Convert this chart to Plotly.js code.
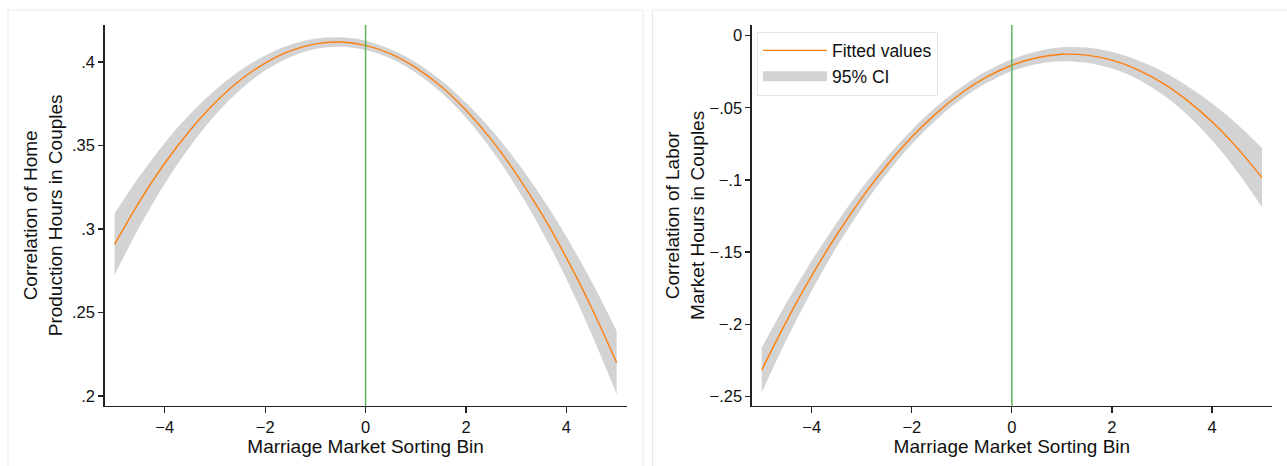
<!DOCTYPE html>
<html>
<head>
<meta charset="utf-8">
<script src="https://cdn.plot.ly/plotly-3.0.1.min.js"></script>
<style>html,body{margin:0;padding:0;background:#fff;}#chart{width:1287px;height:466px;}</style>
</head>
<body>
<div id="chart"></div>
<script>
// ---- data ----
var sortingBin = [-5, -4.5, -4, -3.5, -3, -2.5, -2, -1.5, -1, -0.5, 0, 0.5, 1, 1.5, 2, 2.5, 3, 3.5, 4, 4.5, 5];

// Left panel: correlation of home production hours
var homeFit   = [0.2908, 0.3166, 0.3394, 0.3590, 0.3756, 0.3891, 0.3994, 0.4067, 0.4109, 0.4120, 0.4100, 0.4049, 0.3967, 0.3855, 0.3711, 0.3537, 0.3331, 0.3095, 0.2827, 0.2529, 0.2200];
var homeUpper = [0.3091, 0.3317, 0.3516, 0.3687, 0.3831, 0.3949, 0.4039, 0.4103, 0.4140, 0.4148, 0.4128, 0.4077, 0.3998, 0.3891, 0.3756, 0.3596, 0.3408, 0.3195, 0.2953, 0.2686, 0.2390];
var homeLower = [0.2725, 0.3015, 0.3272, 0.3493, 0.3681, 0.3833, 0.3949, 0.4031, 0.4078, 0.4092, 0.4072, 0.4021, 0.3936, 0.3819, 0.3666, 0.3478, 0.3254, 0.2995, 0.2701, 0.2372, 0.2010];

// Right panel: correlation of labor market hours
var laborFit   = [-0.2318, -0.1977, -0.1664, -0.1380, -0.1126, -0.0900, -0.0703, -0.0535, -0.0396, -0.0286, -0.0205, -0.0153, -0.0129, -0.0135, -0.0170, -0.0233, -0.0325, -0.0447, -0.0597, -0.0776, -0.0984];
var laborUpper = [-0.2162, -0.1849, -0.1560, -0.1296, -0.1058, -0.0843, -0.0653, -0.0490, -0.0354, -0.0245, -0.0164, -0.0109, -0.0081, -0.0082, -0.0112, -0.0168, -0.0245, -0.0347, -0.0469, -0.0612, -0.0779];
var laborLower = [-0.2474, -0.2105, -0.1768, -0.1464, -0.1194, -0.0957, -0.0753, -0.0580, -0.0438, -0.0327, -0.0246, -0.0197, -0.0177, -0.0188, -0.0228, -0.0298, -0.0405, -0.0547, -0.0725, -0.0940, -0.1189];

// tick labels
var xTickVals = [-4, -2, 0, 2, 4];
var xTickText = ['\u22124', '\u22122', '0', '2', '4'];
var homeTickVals = [0.2, 0.25, 0.3, 0.35, 0.4];
var homeTickText = ['.2', '.25', '.3', '.35', '.4'];
var laborTickVals = [-0.25, -0.2, -0.15, -0.1, -0.05, 0];
var laborTickText = ['\u2212.25', '\u2212.2', '\u2212.15', '\u2212.1', '\u2212.05', '0'];

var xTitle = 'Marriage Market Sorting Bin';
var homeTitle = 'Correlation of Home<br>Production Hours in Couples';
var laborTitle = 'Correlation of Labor<br>Market Hours in Couples';
var legendNames = ['Fitted values', '95% CI'];
var refLineX = 0;

// ---- styling ----
var ORANGE = 'rgb(255,127,14)';
var BAND = '#d3d3d3';
var GREEN = '#5cb35c';
var FONT = 'Liberation Sans, Arial, sans-serif';

function bandTraces(xa, ya, lower, upper, fit) {
  return [
    {x: sortingBin, y: lower, xaxis: xa, yaxis: ya, type: 'scatter', mode: 'lines',
     line: {width: 0, shape: 'spline', color: BAND}, showlegend: false, hoverinfo: 'skip'},
    {x: sortingBin, y: upper, xaxis: xa, yaxis: ya, type: 'scatter', mode: 'lines',
     line: {width: 0, shape: 'spline', color: BAND}, fill: 'tonexty', fillcolor: BAND,
     showlegend: false, hoverinfo: 'skip'},
    {x: sortingBin, y: fit, xaxis: xa, yaxis: ya, type: 'scatter', mode: 'lines',
     line: {width: 1.4, shape: 'spline', color: ORANGE}, showlegend: false}
  ];
}

var traces = [].concat(
  bandTraces('x', 'y', homeLower, homeUpper, homeFit),
  bandTraces('x2', 'y2', laborLower, laborUpper, laborFit)
);
// legend-only entries
traces.push({x: [null], y: [null], xaxis: 'x2', yaxis: 'y2', type: 'scatter', mode: 'lines',
  name: legendNames[0], line: {width: 1.4, color: ORANGE}});
traces.push({x: [null], y: [null], xaxis: 'x2', yaxis: 'y2', type: 'scatter', mode: 'lines',
  name: legendNames[1], line: {width: 17, color: BAND}});

var W = 1287, H = 466;
var yDom = [1 - 405.7 / H, 1 - 25 / H];

function xAxis(dom, anchor) {
  return {
    domain: dom, anchor: anchor, range: [-5.2, 5.2],
    tickvals: xTickVals, ticktext: xTickText,
    ticks: 'outside', ticklen: 6, tickwidth: 1.2, tickcolor: '#222',
    showline: true, linecolor: '#222', linewidth: 1.3,
    showgrid: false, zeroline: false,
    tickfont: {family: FONT, size: 16.5, color: '#111'},
    title: {text: xTitle, font: {family: FONT, size: 19, color: '#111'}, standoff: 0},
    automargin: false, fixedrange: true
  };
}
function yAxis(range, vals, text, title, anchor, standoff) {
  return {
    domain: yDom, anchor: anchor, range: range,
    tickvals: vals, ticktext: text,
    ticks: 'outside', ticklen: 5, tickwidth: 1.2, tickcolor: '#222',
    showline: true, linecolor: '#222', linewidth: 1.3,
    showgrid: false, zeroline: false,
    tickfont: {family: FONT, size: 16.5, color: '#111'},
    title: {text: title, font: {family: FONT, size: 19, color: '#111'}, standoff: standoff},
    automargin: false, fixedrange: true
  };
}

var frameColor = '#e3ebed';
var layout = {
  width: W, height: H,
  margin: {l: 0, r: 0, t: 0, b: 0},
  paper_bgcolor: '#fff', plot_bgcolor: '#fff',
  showlegend: true,
  legend: {
    x: 757 / W, y: 1 - 31.5 / H, xanchor: 'left', yanchor: 'top',
    bgcolor: '#fff', bordercolor: '#dfe7e9', borderwidth: 1,
    font: {family: FONT, size: 17.5, color: '#111'},
    itemwidth: 64, tracegroupgap: 0, traceorder: 'normal'
  },
  xaxis: xAxis([104.5 / W, 626.7 / W], 'y'),
  yaxis: yAxis([0.1942, 0.4222], homeTickVals, homeTickText, homeTitle, 'x', 4),
  xaxis2: xAxis([751.7 / W, 1272 / W], 'y2'),
  yaxis2: yAxis([-0.2565, 0.0074], laborTickVals, laborTickText, laborTitle, 'x2', 0),
  shapes: [
    {type: 'rect', xref: 'paper', yref: 'paper', x0: 8 / W, x1: 643 / W, y0: -0.05, y1: 1 - 10 / H,
     line: {color: frameColor, width: 1}, fillcolor: 'rgba(0,0,0,0)', layer: 'below'},
    {type: 'rect', xref: 'paper', yref: 'paper', x0: 652.5 / W, x1: 1.01, y0: -0.05, y1: 1 - 10 / H,
     line: {color: frameColor, width: 1}, fillcolor: 'rgba(0,0,0,0)', layer: 'below'},
    {type: 'line', xref: 'x', yref: 'y domain', x0: refLineX, x1: refLineX, y0: 0, y1: 1,
     line: {color: GREEN, width: 1.5}},
    {type: 'line', xref: 'x2', yref: 'y2 domain', x0: refLineX, x1: refLineX, y0: 0, y1: 1,
     line: {color: GREEN, width: 1.5}}
  ]
};

Plotly.newPlot('chart', traces, layout, {displayModeBar: false, staticPlot: true});
</script>
</body>
</html>
